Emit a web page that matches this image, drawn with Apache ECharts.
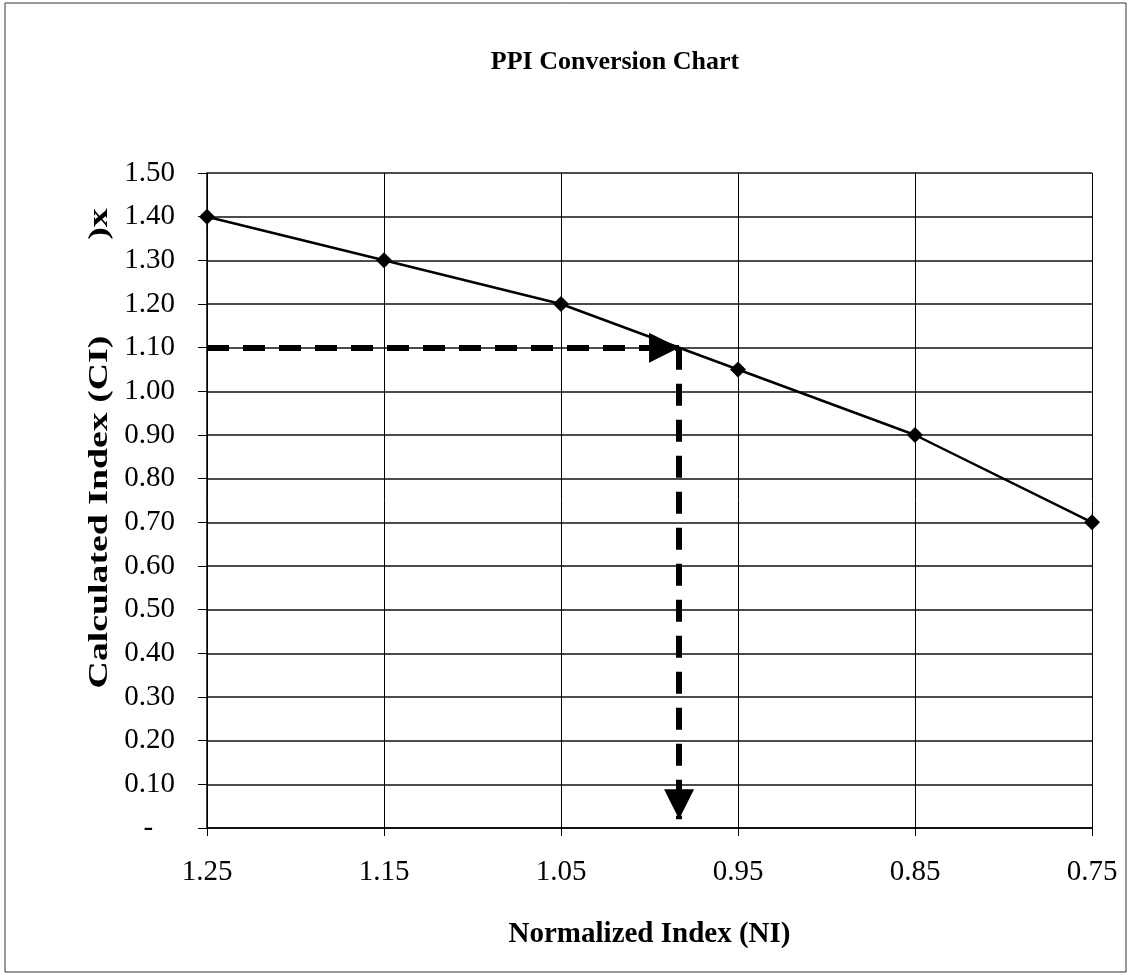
<!DOCTYPE html>
<html>
<head>
<meta charset="utf-8">
<script src="https://cdn.jsdelivr.net/npm/echarts@6/dist/echarts.min.js"></script>
<style>
  html, body { margin: 0; padding: 0; background: #fff; }
  #chart { width: 1129px; height: 975px; }
</style>
</head>
<body>
<div id="chart"></div>
<script>
// normalized index (x) and calculated index (y)
var niValues = [1.25, 1.15, 1.05, 0.95, 0.85, 0.75];
var ciValues = [1.40, 1.30, 1.20, 1.05, 0.90, 0.70];

// example reading: CI 1.10 -> NI ~0.983
var guideCI = 1.10;
var guideNI = 0.9833;
var guideEnd = 0.02;

var serif = '"Liberation Serif", "Times New Roman", serif';

var chart = echarts.init(document.getElementById('chart'));

var points = niValues.map(function (x, i) { return [x, ciValues[i]]; });

var option = {
  animation: false,
  backgroundColor: '#fff',
  title: {
    text: 'PPI Conversion Chart',
    left: 610,
    top: 44,
    textAlign: 'center',
    textStyle: { fontFamily: serif, fontWeight: 'bold', fontSize: 26, color: '#000' }
  },
  grid: { left: 207, right: 37, top: 173, bottom: 147 },
  xAxis: {
    type: 'value',
    inverse: true,
    min: 0.75,
    max: 1.25,
    interval: 0.1,
    name: 'Normalized Index (NI)',
    nameLocation: 'middle',
    nameGap: 92,
    nameTextStyle: { fontFamily: serif, fontWeight: 'bold', fontSize: 29, color: '#000' },
    axisLine: { lineStyle: { color: '#000', width: 1.5 } },
    axisTick: { show: true, length: 8, lineStyle: { color: '#000' } },
    axisLabel: {
      fontFamily: serif, fontSize: 29, color: '#000', margin: 30,
      formatter: function (v) { return v.toFixed(2); }
    },
    splitLine: { show: true, lineStyle: { color: '#000', width: 1 } }
  },
  yAxis: {
    type: 'value',
    min: 0,
    max: 1.5,
    interval: 0.1,
    axisLine: { show: true, lineStyle: { color: '#000', width: 1.5 } },
    axisTick: { show: true, length: 9, lineStyle: { color: '#000' } },
    axisLabel: {
      fontFamily: serif, fontSize: 29, color: '#000', margin: 32,
      formatter: function (v) { return v === 0 ? '-   ' : v.toFixed(2); }
    },
    splitLine: { show: true, lineStyle: { color: '#111', width: 1.6 } }
  },
  graphic: [
    {
      type: 'rect',
      shape: { x: 5, y: 3, width: 1121, height: 969 },
      style: { fill: 'none', stroke: '#333', lineWidth: 1 },
      silent: true
    },
    {
      // y axis title, stretched like the scanned original
      type: 'text',
      x: 100, y: 512,
      rotation: Math.PI / 2,
      scaleX: 1.35,
      style: { text: 'Calculated Index (CI)', fontFamily: serif, fontWeight: 'bold', fontSize: 28, fill: '#000', align: 'center', verticalAlign: 'middle' }
    },
    {
      type: 'text',
      x: 100, y: 224,
      rotation: Math.PI / 2,
      scaleX: 1.35,
      style: { text: ')x', fontFamily: serif, fontWeight: 'bold', fontSize: 28, fill: '#000', align: 'center', verticalAlign: 'middle' }
    }
  ],
  series: [
    {
      type: 'line',
      data: points,
      symbol: 'diamond',
      symbolSize: 16,
      itemStyle: { color: '#000' },
      lineStyle: { color: '#000', width: 2.5 },
      markLine: {
        silent: true,
        symbol: ['none', 'triangle'],
        symbolSize: [30, 30],
        symbolOffset: [0, [0, '50%']],
        label: { show: false },
        lineStyle: { color: '#000', width: 6, type: [22, 14] },
        data: [
          [{ coord: [niValues[0], guideCI] }, { coord: [guideNI, guideCI] }],
          [{ coord: [guideNI, guideCI] }, { coord: [guideNI, guideEnd] }]
        ]
      }
    }
  ]
};

chart.setOption(option);
</script>
</body>
</html>
